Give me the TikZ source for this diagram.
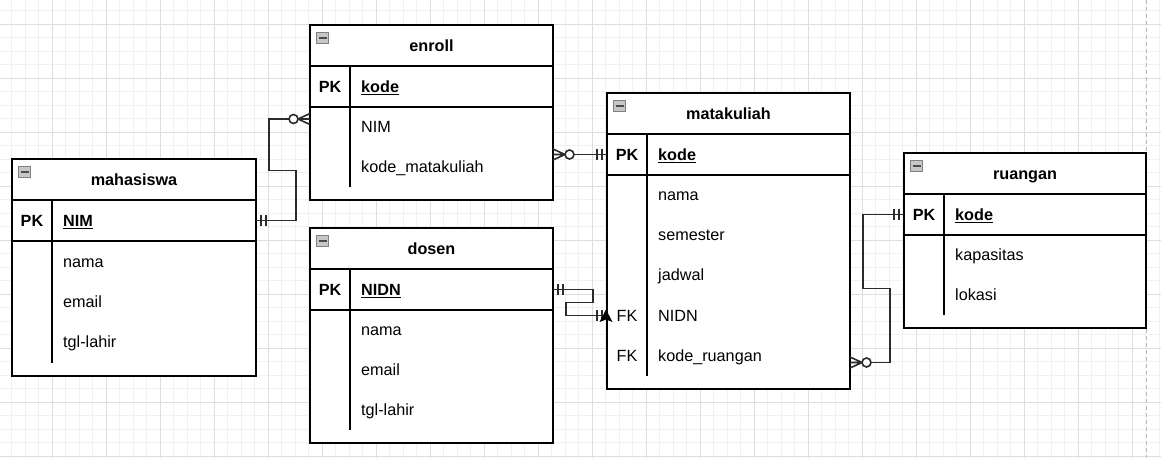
\documentclass[tikz,border=0pt]{standalone}
\usepackage{fontspec}
\setmainfont{Liberation Sans}
\usetikzlibrary{calc}
\definecolor{gridminor}{HTML}{F1F1F1}
\definecolor{gridmajor}{HTML}{DEDEDE}
\definecolor{pageline}{HTML}{BDBDBD}
\definecolor{connc}{HTML}{2B2B2B}
\newcommand\ulk[1]{\setbox0\hbox{#1}\rlap{\rule[-2.4pt]{\wd0}{1.2pt}}\box0}
\tikzset{
  tbl/.style={draw=black, line width=1.5pt, fill=white, outer sep=0pt, inner sep=0pt},
  sepline/.style={draw=black, line width=1.5pt},
  ttl/.style={font=\bfseries\fontsize{16.2}{19}\selectfont, text height=11.6pt, text depth=0pt, inner sep=0pt},
  fld/.style={font=\fontsize{16.2}{19}\selectfont, anchor=west, text height=11.6pt, text depth=0pt, inner sep=0pt},
  fldb/.style={fld, font=\bfseries\fontsize{16.2}{19}\selectfont},
  keyc/.style={font=\fontsize{16.2}{19}\selectfont, text height=11.6pt, text depth=0pt, inner sep=0pt},
  keyb/.style={keyc, font=\bfseries\fontsize{16.2}{19}\selectfont},
  iconbox/.style={draw=black!50, fill=black!22, line width=0.9pt},
  iconbar/.style={draw=black!70, line width=1.8pt},
  conn/.style={draw=connc, line width=1.6pt},
  mone/.pic={\draw[conn] (5,-5.5) -- (5,5.5) (10,-5.5) -- (10,5.5);},
  mzm/.pic={\draw[conn] (0,-5.5) -- (12,0) (0,5.5) -- (12,0) (0,0) -- (12,0);
            \draw[conn, fill=white] (16.5,0) circle (4.5);},
}
% #1 name, #2 L, #3 T, #4 R, #5 B, #6 title
\newcommand\ertbl[6]{%
  \node[tbl, anchor=north west, minimum width={#4-#2}, minimum height={#5-#3}] (#1) at (#2,#3) {};
  \draw[sepline] (#2,#3+41) -- (#4,#3+41);
  \draw[sepline] (#2,#3+82) -- (#4,#3+82);
  \draw[sepline] (#2+40,#3+41) -- (#2+40,#5-13);
  \node[ttl] (#1-t) at ({(#2+#4)/2},#3+20.5) {#6};
  \draw[iconbox] (#2+6.5,#3+7.5) rectangle (#2+18.5,#3+18);
  \draw[iconbar] (#2+8.5,#3+12.75) -- (#2+16.5,#3+12.75);
}
% #1 name, #2 L, #3 y, #4 key, #5 field
\newcommand\errow[5]{%
  \node[keyc] (#1-k) at (#2+20,#3) {#4};
  \node[fld] (#1) at (#2+51,#3) {#5};
}
\newcommand\erpk[5]{%
  \node[keyb] (#1-k) at (#2+20,#3) {#4};
  \node[fldb] (#1) at (#2+51,#3) {\ulk{#5}};
}
\begin{document}
\begin{tikzpicture}[x=1pt, y=-1pt]
\useasboundingbox (0,0) rectangle (1161,458);
\fill[white] (0,0) rectangle (1161,458);
% grid
\foreach \k in {0,...,85} \draw[gridminor, line width=0.8pt] ({11.5+13.5*\k},0) -- ({11.5+13.5*\k},458);
\foreach \k in {0,...,33} \draw[gridminor, line width=0.8pt] (0,{10.5+13.5*\k}) -- (1161,{10.5+13.5*\k});
\foreach \k in {0,...,20} \draw[gridmajor, line width=0.8pt] ({52+54*\k},0) -- ({52+54*\k},458);
\foreach \k in {0,...,8} \draw[gridmajor, line width=0.8pt] (0,{24+54*\k}) -- (1161,{24+54*\k});
\draw[pageline, line width=0.9pt, dash pattern=on 4pt off 3pt] (1146,0) -- (1146,458);

% tables
\ertbl{mhs}{12}{159}{256}{376}{mahasiswa}
\erpk{mhs-nim}{12}{220.5}{PK}{NIM}
\errow{mhs-nama}{12}{262}{}{nama}
\errow{mhs-email}{12}{302}{}{email}
\errow{mhs-tgl}{12}{342}{}{tgl-lahir}

\ertbl{enr}{310}{25}{553}{200}{enroll}
\erpk{enr-kode}{310}{86.5}{PK}{kode}
\errow{enr-nim}{310}{127}{}{NIM}
\errow{enr-kmk}{310}{167}{}{kode\_matakuliah}

\ertbl{dos}{310}{228}{553}{443}{dosen}
\erpk{dos-nidn}{310}{289.5}{PK}{NIDN}
\errow{dos-nama}{310}{330}{}{nama}
\errow{dos-email}{310}{370}{}{email}
\errow{dos-tgl}{310}{410}{}{tgl-lahir}

\ertbl{mk}{607}{93}{850}{389}{matakuliah}
\erpk{mk-kode}{607}{154.5}{PK}{kode}
\errow{mk-nama}{607}{195}{}{nama}
\errow{mk-sem}{607}{235}{}{semester}
\errow{mk-jad}{607}{275}{}{jadwal}
\errow{mk-nidn}{607}{315.5}{FK}{NIDN}
\errow{mk-kr}{607}{355.5}{FK}{kode\_ruangan}

\ertbl{ru}{904}{153}{1146}{328}{ruangan}
\erpk{ru-kode}{904}{214.5}{PK}{kode}
\errow{ru-kap}{904}{255}{}{kapasitas}
\errow{ru-lok}{904}{295}{}{lokasi}

% connector end points
\path ([yshift=-6.5pt]enr.west) coordinate (enrIn);
\path (mk-kr -| mk.east) ++(0,7) coordinate (mkOut);

% mahasiswa -- enroll
\draw[conn] (mhs-nim -| mhs.east) -- ++(40,0) -- ++(0,-50) -- ++(-27,0) |- (enrIn);
\pic at (mhs-nim -| mhs.east) {mone};
\pic[rotate=180] at (enrIn) {mzm};

% enroll -- matakuliah
\draw[conn] (mk-kode -| enr.east) -- (mk-kode -| mk.west);
\pic at (mk-kode -| enr.east) {mzm};
\pic[rotate=180] at (mk-kode -| mk.west) {mone};

% dosen -- matakuliah
\draw[conn] (dos-nidn -| dos.east) -- ++(40,0) -- ++(0,13) -- ++(-27,0) |- (mk-nidn -| mk.west);
\pic at (dos-nidn -| dos.east) {mone};
\pic[rotate=180] at (mk-nidn -| mk.west) {mone};

% ruangan -- matakuliah
\draw[conn] (ru-kode -| ru.west) -- ++(-41,0) -- ++(0,74) -- ++(27,0) |- (mkOut);
\pic[rotate=180] at (ru-kode -| ru.west) {mone};
\pic at (mkOut) {mzm};

% mouse cursor
\fill[black] (606,309.5) -- (612.5,322) -- (606,319.5) -- (599.5,322) -- cycle;
\end{tikzpicture}
\end{document}
